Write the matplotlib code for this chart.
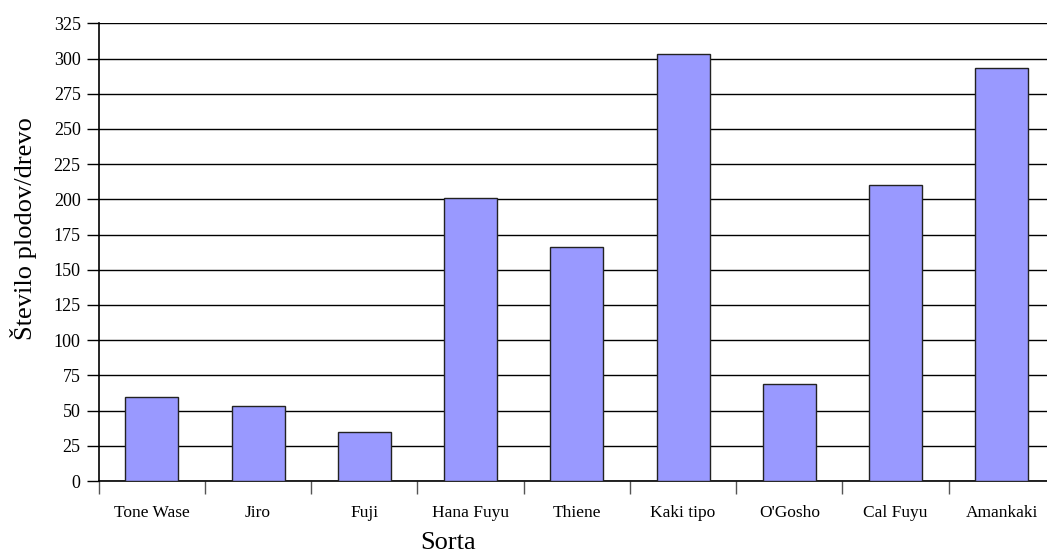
import matplotlib.pyplot as plt

sorte = ['Tone Wase', 'Jiro', 'Fuji', 'Hana Fuyu', 'Thiene',
         'Kaki tipo', "O'Gosho", 'Cal Fuyu', 'Amankaki']
plodov = [60, 53, 35, 201, 166, 303, 69, 210, 293]
y_ticks = list(range(0, 326, 25))

plt.rcParams['font.family'] = ['Liberation Serif', 'DejaVu Serif']

fig = plt.figure(figsize=(10.47, 5.53), dpi=100)
# plot area runs slightly past the right edge, as in the original
ax = fig.add_axes([98.7 / 1047, 1 - 481 / 553, 956.3 / 1047, (481 - 23.3) / 553])

pos = [i + 0.5 for i in range(len(sorte))]
ax.bar(pos, plodov, width=0.5, color='#9999FF', edgecolor='#222222',
       linewidth=1.0, zorder=3)

ax.set_xlim(0, len(sorte))
ax.set_ylim(0, 325)
ax.set_yticks(y_ticks)
ax.yaxis.grid(True, color='black', linewidth=1.0, zorder=0)
ax.set_axisbelow(True)

ax.set_xticks(range(len(sorte) + 1))
ax.set_xticklabels([])
ax.set_xticks(pos, minor=True)
ax.set_xticklabels(sorte, minor=True, fontsize=12.5)
ax.tick_params(axis='x', which='minor', length=0, pad=17)
ax.tick_params(axis='x', which='major', length=9, width=1, color='#555555')
ax.tick_params(axis='y', length=9, width=1, labelsize=13, pad=4)

for s in ['top', 'right']:
    ax.spines[s].set_visible(False)
ax.spines['left'].set_linewidth(1.2)
ax.spines['bottom'].set_linewidth(1.2)

fig.text(448 / 1047, 1 - 543 / 553, 'Sorta', ha='center', va='center', fontsize=19)
fig.text(24 / 1047, 1 - 229 / 553, 'Število plodov/drevo', ha='center', va='center',
         rotation=90, fontsize=19)

fig.savefig('out.png', dpi=100)
